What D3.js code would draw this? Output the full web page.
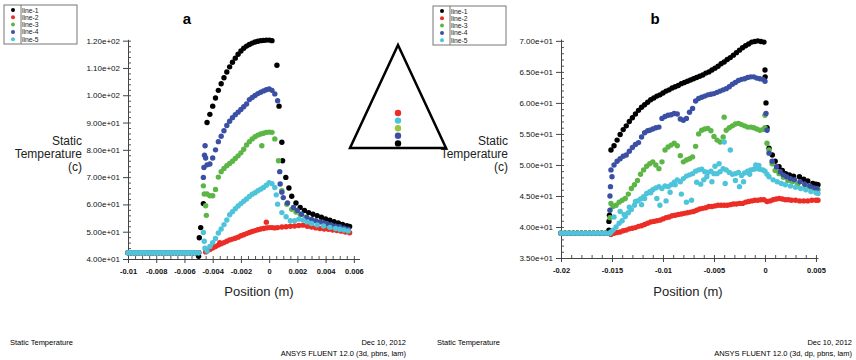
<!DOCTYPE html>
<html>
<head>
<meta charset="utf-8">
<script src="https://cdn.jsdelivr.net/npm/d3@7"></script>
<style>
body{margin:0;background:#fff;}
text{font-family:"Liberation Sans",Arial,sans-serif;}
</style>
</head>
<body>
<svg id="chart" width="856" height="360"></svg>
<script>
// series names / colours (legend order)
var seriesNames = ["line-1", "line-2", "line-3", "line-4", "line-5"];
var seriesColors = ["#000000", "#ec2d26", "#5cb646", "#3b50a4", "#4ec4da"];

// ---- panel a ----
var aXTicks = [-0.01, -0.008, -0.006, -0.004, -0.002, 0, 0.002, 0.004, 0.006];
var aYTicks = [40, 50, 60, 70, 80, 90, 100, 110, 120];
var aBaseX = [-0.0100,-0.0098,-0.0096,-0.0094,-0.0092,-0.0090,-0.0088,-0.0086,-0.0084,-0.0082,-0.0080,-0.0078,-0.0076,-0.0074,-0.0072,-0.0070,-0.0068,-0.0066,-0.0064,-0.0062,-0.0060,-0.0058,-0.0056,-0.0054,-0.0052,-0.0050];
var aBaseT = 42.3;

var aLine1 = [[-0.0050,41.0],[-0.00495,47.8],[-0.00485,51.5],[-0.00466,60.3],
  [-0.0044,90.0],[-0.0042,93.0],[-0.0040,96.0],[-0.0038,99.0],[-0.0036,101.8],[-0.0034,104.2],[-0.0032,106.4],[-0.0030,108.5],
  [-0.0028,110.4],[-0.0026,112.1],[-0.0024,113.6],[-0.0022,115.0],[-0.0020,116.2],[-0.0018,117.2],[-0.0016,118.0],[-0.0014,118.6],
  [-0.0012,119.1],[-0.0010,119.5],[-0.0008,119.8],[-0.0006,120.0],[-0.0004,120.1],[-0.0002,120.2],[0,120.2],[0.0002,120.0],
  [0.00055,111.0],[0.0007,96.0],[0.0009,82.8],[0.00095,76.0],[0.00118,69.9],[0.0014,66.0],[0.0016,63.0],[0.0019,60.5],
  [0.0022,58.9],[0.0025,57.8],[0.0028,57.0],[0.0031,56.4],[0.0034,55.9],[0.0037,55.3],[0.0040,54.7],[0.0043,54.2],
  [0.0046,53.7],[0.0049,53.2],[0.0052,52.7],[0.0055,52.2],[0.0057,51.9]];
var aLine2 = [[-0.0045,42.6],[-0.0044,42.9],[-0.0042,43.5],[-0.0040,44.0],[-0.0038,44.6],[-0.0036,45.1],[-0.0035,46.0],[-0.0034,45.6],
  [-0.0032,46.0],[-0.0030,46.5],[-0.0028,47.0],[-0.0026,47.3],[-0.0024,47.6],[-0.0022,48.0],[-0.0020,48.5],[-0.0018,48.9],
  [-0.0016,49.3],[-0.0014,49.7],[-0.0012,50.1],[-0.0010,50.4],[-0.0008,50.7],[-0.0006,51.0],[-0.0004,51.2],[-0.0002,51.4],
  [-0.0002,53.5],[0,51.5],[0.0002,51.5],[0.0004,51.4],[0.0006,51.5],[0.0009,51.7],[0.0012,51.8],[0.0015,52.0],[0.0018,52.1],
  [0.0021,52.3],[0.0024,52.4],[0.0027,52.0],[0.0030,51.7],[0.0033,51.4],[0.0036,51.2],[0.0039,51.0],[0.0042,50.9],
  [0.0045,50.6],[0.0048,50.4],[0.0051,50.2],[0.0054,49.9],[0.0057,49.6]];
var aLine3 = [[-0.00466,66.8],[-0.0046,63.8],[-0.0045,59.5],[-0.00445,56.0],
  [-0.0044,63.8],[-0.0042,63.2],[-0.0040,63.2],[-0.0038,65.5],[-0.0036,70.0],[-0.0034,72.0],[-0.0032,73.2],[-0.0030,74.2],
  [-0.0028,75.0],[-0.0026,75.8],[-0.0024,76.8],[-0.0022,77.8],[-0.0020,78.9],[-0.0018,80.2],[-0.0016,81.8],[-0.0014,83.0],
  [-0.0012,84.0],[-0.0010,84.8],[-0.0008,85.4],[-0.0006,85.8],[-0.00052,81.5],[-0.0004,86.1],[-0.0002,86.4],[0,86.5],[0.0002,86.4],
  [0.0004,84.0],[0.00066,76.0],[0.0009,65.0],[0.00125,60.1],[0.0016,58.2],[0.0019,57.2],[0.0022,56.4],[0.0026,55.3],
  [0.0030,54.3],[0.0034,53.6],[0.00385,52.7],[0.0042,52.2],[0.0046,51.6],[0.0050,51.1],[0.0053,50.8],[0.0056,50.6]];
var aLine4 = [[-0.00466,69.9],[-0.00462,73.5],[-0.00458,78.0],[-0.00454,81.5],
  [-0.0045,77.0],[-0.0044,74.5],[-0.0042,74.8],[-0.0040,77.0],[-0.0038,80.0],[-0.0036,83.0],[-0.0034,85.0],[-0.0032,87.0],
  [-0.0030,88.9],[-0.0028,90.5],[-0.0026,91.8],[-0.0024,92.9],[-0.0022,93.8],[-0.0020,94.8],[-0.0018,95.8],[-0.0016,96.8],
  [-0.0014,98.4],[-0.0012,99.2],[-0.0010,99.9],[-0.0008,100.6],[-0.0006,101.1],[-0.0004,101.6],[-0.0002,102.0],[0,102.3],
  [0.0002,101.8],[0.0004,100.5],[0.0006,98.0],[0.00075,72.0],[0.00078,67.5],[0.0009,64.5],[0.0010,62.5],[0.0013,60.5],
  [0.00172,58.9],[0.0020,57.8],[0.0023,56.4],[0.00267,55.2],[0.0030,54.5],[0.0033,54.0],[0.0036,53.6],[0.00385,53.3],
  [0.0041,52.9],[0.0044,52.5],[0.0047,52.0],[0.0050,51.8],[0.0053,51.3],[0.0056,50.9]];
var aLine5 = [[-0.00466,49.7],[-0.0046,46.5],[-0.00455,44.0],
  [-0.0044,42.9],[-0.0042,44.6],[-0.0040,46.0],[-0.0038,47.5],[-0.0036,49.5],[-0.0034,51.0],[-0.0032,52.6],[-0.0030,54.3],
  [-0.0028,56.2],[-0.0026,57.3],[-0.0024,58.4],[-0.0022,59.4],[-0.0020,60.3],[-0.0018,61.2],[-0.0016,62.0],[-0.0014,62.9],
  [-0.0012,63.7],[-0.0010,64.3],[-0.0008,65.0],[-0.0006,65.6],[-0.0004,66.2],[-0.0002,67.0],[0,68.0],[0.0002,67.6],
  [0.0004,66.2],[0.0005,63.5],[0.0006,60.1],[0.0009,57.0],[0.0012,55.5],[0.0015,54.0],[0.0018,54.0],[0.0021,54.6],
  [0.0024,54.3],[0.0027,53.6],[0.0030,53.0],[0.0034,52.5],[0.00385,52.1],[0.0043,51.6],[0.0047,51.2],[0.0050,50.9],
  [0.0053,50.6],[0.0056,50.3]];

// ---- panel b ----
var bXTicks = [-0.02, -0.015, -0.01, -0.005, 0, 0.005];
var bYTicks = [35, 40, 45, 50, 55, 60, 65, 70];
var bBaseX = [-0.0200,-0.0196,-0.0192,-0.0188,-0.0184,-0.0180,-0.0176,-0.0172,-0.0168,-0.0164,-0.0160,-0.0156,-0.0152];
var bBaseT = 39.0;

var bLine1 = [[-0.0153,39.5],[-0.0153,40.9],[-0.01525,41.9],
  [-0.0151,52.4],[-0.0148,53.1],[-0.0145,54.0],[-0.0142,54.9],[-0.0139,55.7],[-0.0136,56.3],[-0.0133,57.0],[-0.0130,57.6],
  [-0.0127,58.2],[-0.0124,58.8],[-0.0121,59.3],[-0.0118,59.7],[-0.0115,60.1],[-0.0112,60.5],[-0.0109,60.8],[-0.0106,61.1],
  [-0.0103,61.3],[-0.0100,61.6],[-0.0097,61.9],[-0.0094,62.1],[-0.0091,62.4],[-0.0088,62.6],[-0.0085,62.8],[-0.0082,63.1],
  [-0.0079,63.3],[-0.0076,63.5],[-0.0073,63.7],[-0.0070,63.9],[-0.0067,64.1],[-0.0064,64.3],[-0.0061,64.5],[-0.0058,64.8],
  [-0.0055,65.0],[-0.0052,65.3],[-0.0049,65.6],[-0.0046,65.9],[-0.0043,66.3],[-0.0040,66.6],[-0.0037,67.0],[-0.0034,67.3],
  [-0.0031,67.7],[-0.0028,68.1],[-0.0025,68.5],[-0.0022,68.9],[-0.0019,69.2],[-0.0016,69.5],[-0.0013,69.8],[-0.0010,69.9],
  [-0.0007,70.0],[-0.0004,69.9],[-0.0001,69.8],
  [0.0000,65.3],[0.00002,64.2],[0.0001,60.0],[0.0002,56.0],[0.0004,52.7],[0.00072,51.6],[0.0010,50.6],[0.00138,49.7],
  [0.0017,49.1],[0.00203,48.6],[0.0024,48.4],[0.0028,48.2],[0.00338,48.1],[0.0038,47.7],[0.0042,47.4],[0.00469,47.0],
  [0.0050,46.9],[0.0052,46.8]];
var bLine2 = [[-0.0151,38.8],[-0.0148,39.0],[-0.0145,39.1],[-0.0142,39.2],[-0.0139,39.4],[-0.0136,39.5],[-0.0133,39.7],
  [-0.0130,39.8],[-0.0127,39.9],[-0.0124,40.1],[-0.0121,40.2],[-0.0118,40.4],[-0.0115,40.6],[-0.0112,40.8],[-0.0109,40.9],
  [-0.0106,41.0],[-0.0103,41.1],[-0.0100,41.3],[-0.0097,41.5],[-0.0094,41.6],[-0.0091,41.8],[-0.0088,41.9],[-0.0085,42.0],
  [-0.0082,42.1],[-0.0079,42.2],[-0.0076,42.3],[-0.0073,42.4],[-0.0070,42.5],[-0.0067,42.7],[-0.0064,42.9],[-0.0061,43.0],
  [-0.0058,43.1],[-0.0055,43.3],[-0.0052,43.3],[-0.0049,43.4],[-0.0046,43.5],[-0.0043,43.5],[-0.0040,43.5],[-0.0037,43.5],
  [-0.0034,43.6],[-0.0031,43.7],[-0.0028,43.7],[-0.0025,43.8],[-0.0022,43.8],[-0.0019,44.0],[-0.0016,44.1],[-0.0013,44.2],
  [-0.0010,44.3],[-0.0007,44.3],[-0.0004,44.4],[-0.0001,44.4],[0.0002,44.1],[0.0005,44.2],[0.0008,44.4],[0.0011,44.5],
  [0.0014,44.6],[0.0017,44.5],[0.0020,44.4],[0.0023,44.4],[0.0026,44.3],[0.0030,44.3],[0.0034,44.2],[0.0038,44.2],
  [0.0042,44.2],[0.0046,44.3],[0.0050,44.3],[0.0052,44.3]];
var bLine3 = [[-0.0152,41.5],[-0.0151,43.8],[-0.0149,43.3],[-0.0146,43.5],[-0.0143,44.0],[-0.0140,44.3],[-0.0137,44.6],
  [-0.0134,45.3],[-0.0131,46.2],[-0.0128,46.8],[-0.0125,47.5],[-0.0122,48.5],[-0.0119,49.2],[-0.0116,49.8],[-0.0113,50.2],
  [-0.0110,50.5],[-0.0107,50.0],[-0.0104,49.4],[-0.0101,50.5],[-0.0098,52.4],[-0.0095,52.9],[-0.0092,53.2],[-0.0089,53.5],
  [-0.0086,53.1],[-0.0083,51.5],[-0.0080,50.5],[-0.0077,50.8],[-0.0074,51.0],[-0.0071,51.3],[-0.0068,53.0],[-0.0065,55.0],
  [-0.0062,55.6],[-0.0059,55.8],[-0.0056,55.9],[-0.0053,55.5],[-0.0050,54.6],[-0.0047,54.0],[-0.0044,53.7],[-0.0041,54.5],
  [-0.0040,57.7],[-0.0038,55.6],[-0.0035,56.0],[-0.0032,56.3],[-0.0029,56.6],[-0.0026,56.7],[-0.0023,56.5],[-0.0020,56.3],
  [-0.0017,56.1],[-0.0014,56.1],[-0.0011,56.0],[-0.0008,55.8],[-0.0005,55.6],[-0.0002,55.7],[0.0,56.0],[0.0,58.0],
  [0.0002,53.5],[0.0004,52.4],[0.0007,50.2],[0.0010,49.1],[0.00138,48.6],[0.0018,48.0],[0.00225,47.5],[0.00269,47.3],
  [0.0032,46.9],[0.0040,46.5],[0.0045,46.3],[0.0050,46.1],[0.0052,46.0]];
var bLine4 = [[-0.0152,42.7],[-0.0152,45.0],[-0.01515,46.5],
  [-0.0151,49.2],[-0.0150,48.1],[-0.0148,50.0],[-0.0145,50.6],[-0.0142,51.0],[-0.0139,51.4],[-0.0136,51.6],[-0.0133,52.2],
  [-0.0130,52.8],[-0.0127,53.3],[-0.0124,53.6],[-0.0121,54.5],[-0.0118,55.2],[-0.0115,55.5],[-0.0113,55.6],[-0.0110,55.8],
  [-0.0107,56.0],[-0.0104,56.1],[-0.0101,57.5],[-0.0098,57.8],[-0.0095,58.0],[-0.0092,58.1],[-0.0089,58.3],[-0.0086,58.2],
  [-0.0083,57.4],[-0.0080,57.2],[-0.0077,57.5],[-0.0074,58.5],[-0.0071,59.1],[-0.0068,60.3],[-0.0065,60.7],[-0.0062,60.9],
  [-0.0059,61.1],[-0.0056,61.3],[-0.0053,61.4],[-0.0050,61.5],[-0.0047,61.7],[-0.0044,61.9],[-0.0041,62.1],[-0.0038,62.3],
  [-0.0035,62.6],[-0.0032,63.0],[-0.0029,63.3],[-0.0026,63.6],[-0.0023,63.8],[-0.0020,63.9],[-0.0017,64.1],[-0.0014,64.2],
  [-0.0011,64.2],[-0.0008,64.0],[-0.0005,63.9],[-0.0002,63.8],[0.0,63.5],[0.0001,58.3],[0.0002,55.6],[0.0004,51.9],
  [0.0007,50.6],[0.00113,49.7],[0.0015,48.9],[0.0018,48.4],[0.00212,48.1],[0.0025,47.8],[0.0029,47.6],[0.00344,47.3],
  [0.0039,46.9],[0.0044,46.6],[0.0048,46.3],[0.0051,46.2]];
var bLine5 = [[-0.0151,39.2],[-0.0149,39.5],[-0.0146,40.0],[-0.0143,40.6],[-0.0140,41.0],[-0.0137,41.7],[-0.0134,42.3],
  [-0.0131,42.8],[-0.0128,43.5],[-0.0125,44.2],[-0.0122,44.5],[-0.0119,44.9],[-0.0116,45.4],[-0.0113,45.7],[-0.0110,46.0],
  [-0.0107,46.3],[-0.0104,46.5],[-0.0101,46.2],[-0.0098,46.6],[-0.0095,46.5],[-0.0092,46.8],[-0.0089,47.2],[-0.0086,47.6],
  [-0.0083,47.3],[-0.0080,47.8],[-0.0077,48.2],[-0.0074,48.4],[-0.0071,48.6],[-0.0068,49.0],[-0.0065,49.2],[-0.0062,49.3],
  [-0.0059,48.9],[-0.0056,48.8],[-0.0053,49.0],[-0.0050,48.6],[-0.0047,48.6],[-0.0044,48.9],[-0.0041,49.4],[-0.0038,49.2],
  [-0.0035,48.8],[-0.0032,48.5],[-0.0029,48.6],[-0.0026,48.8],[-0.0023,48.3],[-0.0020,48.7],[-0.0017,49.0],[-0.0014,49.2],
  [-0.0011,49.3],[-0.0008,49.4],[-0.0005,49.3],[-0.0002,49.2],[0.0,49.0],
  [-0.0148,41.6],[-0.0142,42.5],[-0.0138,42.0],[-0.0133,43.2],[-0.0127,44.1],[-0.0121,43.6],[-0.0118,44.6],[-0.0112,45.5],
  [-0.0106,44.6],[-0.0103,43.5],[-0.0097,44.2],[-0.0093,45.6],[-0.0088,46.8],[-0.0082,45.3],[-0.0077,44.0],[-0.0072,44.3],
  [-0.0067,47.2],[-0.0063,46.9],[-0.0060,47.6],[-0.0057,48.1],[-0.0052,47.3],[-0.0049,49.8],[-0.0045,50.2],[-0.0039,47.0],
  [-0.0034,52.4],[-0.0029,47.5],[-0.0025,46.5],[-0.0021,47.3],[-0.0015,48.5],[-0.0009,50.0],[-0.0006,49.9],[-0.0040,53.7],
  [0.0002,48.5],[0.0004,48.1],[0.0008,47.6],[0.0012,47.3],[0.0016,47.0],[0.0020,46.8],[0.0025,46.6],[0.0030,46.4],
  [0.0035,46.2],[0.0040,46.0],[0.0045,45.7],[0.0050,45.5],[0.0052,45.4]];

// probe sketch in the middle (triangle + coloured points, top to bottom)
var probeTriangle = [[398, 45], [446, 148], [350, 148]];
var probeColors = ["#ec2d26", "#4ec4da", "#9cc43c", "#3b50a4", "#000000"];

var svg = d3.select("#chart");

var expFormat = function(v){
	var s = v.toExponential(2);
	return s.replace(/e([+-])(\d)$/, "e$10$2");
};
var posFormat = function(v){
	return String(+v.toFixed(4));
};

var drawPanel = function(p){
	var x = d3.scaleLinear().domain(p.xDomain).range(p.xRange);
	var y = d3.scaleLinear().domain(p.yDomain).range(p.yRange);
	var g = svg.append("g");

	// minor ticks (inward)
	g.append("g")
		.attr("transform", "translate(" + p.xRange[0] + ",0)")
		.call(d3.axisRight(y).tickValues(p.yMinor).tickSize(3).tickFormat(""))
		.call(function(a){ a.select(".domain").remove(); a.selectAll("line").attr("stroke", "#555"); });
	g.append("g")
		.attr("transform", "translate(0," + p.yRange[0] + ")")
		.call(d3.axisTop(x).tickValues(p.xMinor).tickSize(3).tickFormat(""))
		.call(function(a){ a.select(".domain").remove(); a.selectAll("line").attr("stroke", "#555"); });

	// major axes
	var ya = g.append("g")
		.attr("transform", "translate(" + p.xRange[0] + ",0)")
		.call(d3.axisLeft(y).tickValues(p.yTicks).tickSize(5).tickSizeOuter(0).tickPadding(3).tickFormat(expFormat));
	var xa = g.append("g")
		.attr("transform", "translate(0," + p.yRange[0] + ")")
		.call(d3.axisBottom(x).tickValues(p.xTicks).tickSize(4).tickSizeOuter(0).tickPadding(6).tickFormat(posFormat));
	[ya, xa].forEach(function(a){
		a.select(".domain").attr("stroke", "#444");
		a.selectAll("line").attr("stroke", "#444");
		a.selectAll("text").attr("fill", "#111").style("font-family", "'Liberation Sans',Arial,sans-serif").style("font-size", "8px");
	});
	xa.selectAll("text").style("font-size", "7.5px").style("font-weight", "bold");

	// points
	p.series.forEach(function(s, i){
		var pts = p.baseX.map(function(bx){ return [bx, p.baseT]; }).concat(s);
		g.append("g").selectAll("circle")
			.data(pts)
			.enter().append("circle")
			.attr("cx", function(d){ return x(d[0]); })
			.attr("cy", function(d){ return y(d[1]); })
			.attr("r", 2.7)
			.attr("fill", seriesColors[i]);
	});

	// titles
	g.append("text").attr("x", p.titleX).attr("y", 24).attr("text-anchor", "middle")
		.style("font-size", "15px").style("font-weight", "bold").text(p.title);
	g.append("text").attr("x", p.xLabelX).attr("y", 296).attr("text-anchor", "middle")
		.style("font-size", "13px").attr("fill", "#222").text("Position (m)");
	["Static", "Temperature", "(c)"].forEach(function(t, k){
		g.append("text").attr("x", p.yLabelX).attr("y", 145 + k * 13).attr("text-anchor", "end")
			.style("font-size", "12px").attr("fill", "#222").text(t);
	});

	// legend
	var lg = g.append("g");
	lg.append("rect").attr("x", p.legendX).attr("y", p.legendY).attr("width", 73).attr("height", 39)
		.attr("fill", "#fff").attr("stroke", "#777").attr("stroke-width", 1);
	seriesNames.forEach(function(n, i){
		lg.append("circle").attr("cx", p.legendX + 9).attr("cy", p.legendY + 5 + i * 7.3).attr("r", 2)
			.attr("fill", seriesColors[i]);
		lg.append("text").attr("x", p.legendX + 18).attr("y", p.legendY + 7.5 + i * 7.3)
			.style("font-size", "6.8px").attr("fill", "#222").text(n);
	});
	lg.append("line").attr("x1", p.legendX + 17).attr("x2", p.legendX + 17)
		.attr("y1", p.legendY).attr("y2", p.legendY + 39).attr("stroke", "#777");

	// footer
	g.append("text").attr("x", p.footL).attr("y", 345).style("font-size", "7.5px").text("Static Temperature");
	g.append("text").attr("x", p.footR).attr("y", 345).attr("text-anchor", "end").style("font-size", "7.5px").text("Dec 10, 2012");
	g.append("text").attr("x", p.footR).attr("y", 356).attr("text-anchor", "end").style("font-size", "7.5px").text(p.footer);
};

drawPanel({
	title: "a", titleX: 187, xLabelX: 259, yLabelX: 82,
	xDomain: [-0.01, 0.0064], xRange: [128, 359.5],
	yDomain: [40, 120.5], yRange: [259, 39.3],
	xTicks: aXTicks, yTicks: aYTicks,
	xMinor: d3.range(-0.01, 0.00641, 0.0005), yMinor: d3.range(40, 120.1, 2),
	baseX: aBaseX, baseT: aBaseT,
	series: [aLine1, aLine2, aLine3, aLine4, aLine5],
	legendX: 4, legendY: 5,
	footL: 10, footR: 406, footer: "ANSYS FLUENT 12.0 (3d, pbns, lam)"
});

drawPanel({
	title: "b", titleX: 655, xLabelX: 688, yLabelX: 508,
	xDomain: [-0.02, 0.0052], xRange: [561, 818],
	yDomain: [35, 70.3], yRange: [258, 39],
	xTicks: bXTicks, yTicks: bYTicks,
	xMinor: d3.range(-0.02, 0.00521, 0.001), yMinor: d3.range(35, 70.1, 1),
	baseX: bBaseX, baseT: bBaseT,
	series: [bLine1, bLine2, bLine3, bLine4, bLine5],
	legendX: 433, legendY: 6,
	footL: 437, footR: 852, footer: "ANSYS FLUENT 12.0 (3d, dp, pbns, lam)"
});

// probe sketch
svg.append("path")
	.attr("d", d3.line()(probeTriangle) + "Z")
	.attr("fill", "none").attr("stroke", "#000").attr("stroke-width", 2.5).attr("stroke-linejoin", "miter");
svg.selectAll(".probe").data(probeColors).enter().append("circle")
	.attr("class", "probe")
	.attr("cx", 398)
	.attr("cy", function(d, i){ return 113 + i * 7.6; })
	.attr("r", 3.2)
	.attr("fill", function(d){ return d; });
</script>
</body>
</html>
